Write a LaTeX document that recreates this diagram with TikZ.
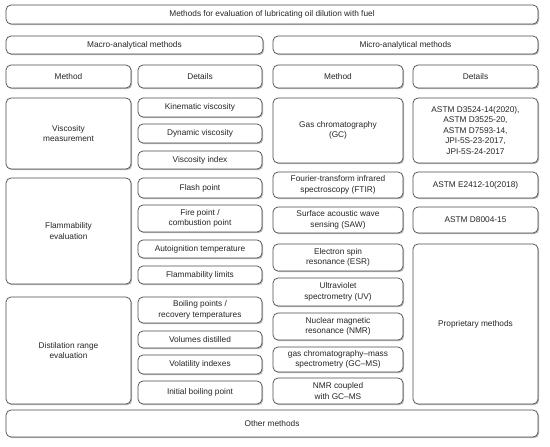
\documentclass[tikz,border=0pt]{standalone}
\usepackage{fontspec}
\setmainfont{Liberation Sans}
\usetikzlibrary{shadows}
\tikzset{
  box/.style={draw=black!70, line width=0.7pt, rounded corners=5pt, fill=white,
    align=center, inner sep=1pt, text=black!85,
    font=\fontsize{8.3}{10.5}\selectfont,
    drop shadow={shadow xshift=1.2pt, shadow yshift=-1.2pt, fill=black!35, opacity=0.8}}
}
\newcommand\bx[6]{%
  \pgfmathsetmacro\bw{#4-#2}\pgfmathsetmacro\bh{#5-#3}%
  \pgfmathsetmacro\bcx{(#2+#4)/2}\pgfmathsetmacro\bcy{(#3+#5)/2}%
  \node[box, minimum width=\bw pt, minimum height=\bh pt] (#1) at (\bcx,\bcy) {#6};}
\begin{document}
\begin{tikzpicture}[x=1pt,y=-1pt]
\useasboundingbox (0,0) rectangle (550,447);
\bx{title}{6}{5}{538}{24}{Methods for evaluation of lubricating oil dilution with fuel}
\bx{macro}{6}{36}{263}{54}{Macro-analytical methods}
\bx{micro}{273}{36}{538}{54}{Micro-analytical methods}
\bx{mh1}{6}{65}{131}{88}{Method}
\bx{dh1}{138}{65}{262}{88}{Details}
\bx{mh2}{273}{65}{403}{88}{Method}
\bx{dh2}{413}{65}{538}{88}{Details}
% macro column
\bx{visc}{6}{98}{131}{169}{Viscosity\\measurement}
\bx{kin}{138}{98}{262}{117}{Kinematic viscosity}
\bx{dyn}{138}{124}{262}{143}{Dynamic viscosity}
\bx{vi}{138}{151}{262}{169}{Viscosity index}
\bx{flam}{6}{178}{131}{284}{Flammability\\evaluation}
\bx{flash}{138}{178}{262}{198}{Flash point}
\bx{fire}{138}{205}{262}{232}{Fire point /\\combustion point}
\bx{auto}{138}{240}{262}{258}{Autoignition temperature}
\bx{fl}{138}{266}{262}{284}{Flammability limits}
\bx{dist}{6}{297}{131}{404}{Distilation range\\evaluation}
\bx{boil}{138}{297}{262}{323}{Boiling points /\\recovery temperatures}
\bx{vol}{138}{331}{262}{348}{Volumes distilled}
\bx{volx}{138}{355}{262}{374}{Volatility indexes}
\bx{ibp}{138}{381}{262}{404}{Initial boiling point}
% micro column
\bx{gc}{273}{98}{403}{163}{Gas chromatography\\(GC)}
\bx{astm1}{413}{98}{538}{163}{ASTM D3524-14(2020),\\ASTM D3525-20,\\ASTM D7593-14,\\JPI-5S-23-2017,\\JPI-5S-24-2017}
\bx{ftir}{273}{172}{403}{198}{Fourier-transform infrared\\spectroscopy (FTIR)}
\bx{astm2}{413}{172}{538}{198}{ASTM E2412-10(2018)}
\bx{saw}{273}{207}{403}{233}{Surface acoustic wave\\sensing (SAW)}
\bx{astm3}{413}{207}{538}{233}{ASTM D8004-15}
\bx{esr}{273}{244}{403}{271}{Electron spin\\resonance (ESR)}
\bx{prop}{413}{244}{538}{404}{Proprietary methods}
\bx{uv}{273}{278}{403}{306}{Ultraviolet\\spectrometry (UV)}
\bx{nmr}{273}{313}{403}{340}{Nuclear magnetic\\resonance (NMR)}
\bx{gcms}{273}{347}{403}{372}{gas chromatography–mass\\spectrometry (GC–MS)}
\bx{nmrgc}{273}{378}{403}{404}{NMR coupled\\with GC–MS}
\bx{other}{6}{410}{538}{437}{Other methods}
\end{tikzpicture}
\end{document}
